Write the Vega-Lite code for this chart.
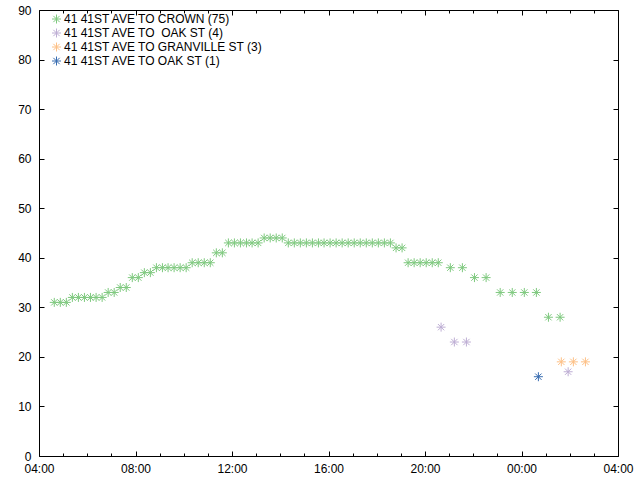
{
  "$schema": "https://vega.github.io/schema/vega-lite/v6.json",
  "width": 579,
  "height": 446,
  "autosize": {"type": "none"},
  "padding": {"left": 39, "top": 10, "right": 22, "bottom": 24},
  "background": "white",
  "config": {
    "view": {"stroke": "black", "strokeWidth": 1},
    "font": "Liberation Sans",
    "axis": {"grid": false, "domain": false, "labelFont": "Liberation Sans", "labelFontSize": 12, "labelColor": "black", "tickColor": "black", "title": null}
  },
  "data": {"values": [
    {"t": "2024-01-01T04:38", "v": 31, "s": "41 41ST AVE TO CROWN (75)"},
    {"t": "2024-01-01T04:53", "v": 31, "s": "41 41ST AVE TO CROWN (75)"},
    {"t": "2024-01-01T05:08", "v": 31, "s": "41 41ST AVE TO CROWN (75)"},
    {"t": "2024-01-01T05:23", "v": 32, "s": "41 41ST AVE TO CROWN (75)"},
    {"t": "2024-01-01T05:38", "v": 32, "s": "41 41ST AVE TO CROWN (75)"},
    {"t": "2024-01-01T05:53", "v": 32, "s": "41 41ST AVE TO CROWN (75)"},
    {"t": "2024-01-01T06:08", "v": 32, "s": "41 41ST AVE TO CROWN (75)"},
    {"t": "2024-01-01T06:22", "v": 32, "s": "41 41ST AVE TO CROWN (75)"},
    {"t": "2024-01-01T06:37", "v": 32, "s": "41 41ST AVE TO CROWN (75)"},
    {"t": "2024-01-01T06:52", "v": 33, "s": "41 41ST AVE TO CROWN (75)"},
    {"t": "2024-01-01T07:07", "v": 33, "s": "41 41ST AVE TO CROWN (75)"},
    {"t": "2024-01-01T07:22", "v": 34, "s": "41 41ST AVE TO CROWN (75)"},
    {"t": "2024-01-01T07:37", "v": 34, "s": "41 41ST AVE TO CROWN (75)"},
    {"t": "2024-01-01T07:52", "v": 36, "s": "41 41ST AVE TO CROWN (75)"},
    {"t": "2024-01-01T08:07", "v": 36, "s": "41 41ST AVE TO CROWN (75)"},
    {"t": "2024-01-01T08:22", "v": 37, "s": "41 41ST AVE TO CROWN (75)"},
    {"t": "2024-01-01T08:37", "v": 37, "s": "41 41ST AVE TO CROWN (75)"},
    {"t": "2024-01-01T08:52", "v": 38, "s": "41 41ST AVE TO CROWN (75)"},
    {"t": "2024-01-01T09:07", "v": 38, "s": "41 41ST AVE TO CROWN (75)"},
    {"t": "2024-01-01T09:21", "v": 38, "s": "41 41ST AVE TO CROWN (75)"},
    {"t": "2024-01-01T09:36", "v": 38, "s": "41 41ST AVE TO CROWN (75)"},
    {"t": "2024-01-01T09:51", "v": 38, "s": "41 41ST AVE TO CROWN (75)"},
    {"t": "2024-01-01T10:06", "v": 38, "s": "41 41ST AVE TO CROWN (75)"},
    {"t": "2024-01-01T10:21", "v": 39, "s": "41 41ST AVE TO CROWN (75)"},
    {"t": "2024-01-01T10:36", "v": 39, "s": "41 41ST AVE TO CROWN (75)"},
    {"t": "2024-01-01T10:51", "v": 39, "s": "41 41ST AVE TO CROWN (75)"},
    {"t": "2024-01-01T11:06", "v": 39, "s": "41 41ST AVE TO CROWN (75)"},
    {"t": "2024-01-01T11:21", "v": 41, "s": "41 41ST AVE TO CROWN (75)"},
    {"t": "2024-01-01T11:36", "v": 41, "s": "41 41ST AVE TO CROWN (75)"},
    {"t": "2024-01-01T11:51", "v": 43, "s": "41 41ST AVE TO CROWN (75)"},
    {"t": "2024-01-01T12:06", "v": 43, "s": "41 41ST AVE TO CROWN (75)"},
    {"t": "2024-01-01T12:21", "v": 43, "s": "41 41ST AVE TO CROWN (75)"},
    {"t": "2024-01-01T12:36", "v": 43, "s": "41 41ST AVE TO CROWN (75)"},
    {"t": "2024-01-01T12:50", "v": 43, "s": "41 41ST AVE TO CROWN (75)"},
    {"t": "2024-01-01T13:05", "v": 43, "s": "41 41ST AVE TO CROWN (75)"},
    {"t": "2024-01-01T13:20", "v": 44, "s": "41 41ST AVE TO CROWN (75)"},
    {"t": "2024-01-01T13:35", "v": 44, "s": "41 41ST AVE TO CROWN (75)"},
    {"t": "2024-01-01T13:50", "v": 44, "s": "41 41ST AVE TO CROWN (75)"},
    {"t": "2024-01-01T14:05", "v": 44, "s": "41 41ST AVE TO CROWN (75)"},
    {"t": "2024-01-01T14:20", "v": 43, "s": "41 41ST AVE TO CROWN (75)"},
    {"t": "2024-01-01T14:35", "v": 43, "s": "41 41ST AVE TO CROWN (75)"},
    {"t": "2024-01-01T14:50", "v": 43, "s": "41 41ST AVE TO CROWN (75)"},
    {"t": "2024-01-01T15:05", "v": 43, "s": "41 41ST AVE TO CROWN (75)"},
    {"t": "2024-01-01T15:20", "v": 43, "s": "41 41ST AVE TO CROWN (75)"},
    {"t": "2024-01-01T15:35", "v": 43, "s": "41 41ST AVE TO CROWN (75)"},
    {"t": "2024-01-01T15:49", "v": 43, "s": "41 41ST AVE TO CROWN (75)"},
    {"t": "2024-01-01T16:04", "v": 43, "s": "41 41ST AVE TO CROWN (75)"},
    {"t": "2024-01-01T16:19", "v": 43, "s": "41 41ST AVE TO CROWN (75)"},
    {"t": "2024-01-01T16:34", "v": 43, "s": "41 41ST AVE TO CROWN (75)"},
    {"t": "2024-01-01T16:49", "v": 43, "s": "41 41ST AVE TO CROWN (75)"},
    {"t": "2024-01-01T17:04", "v": 43, "s": "41 41ST AVE TO CROWN (75)"},
    {"t": "2024-01-01T17:19", "v": 43, "s": "41 41ST AVE TO CROWN (75)"},
    {"t": "2024-01-01T17:34", "v": 43, "s": "41 41ST AVE TO CROWN (75)"},
    {"t": "2024-01-01T17:49", "v": 43, "s": "41 41ST AVE TO CROWN (75)"},
    {"t": "2024-01-01T18:04", "v": 43, "s": "41 41ST AVE TO CROWN (75)"},
    {"t": "2024-01-01T18:19", "v": 43, "s": "41 41ST AVE TO CROWN (75)"},
    {"t": "2024-01-01T18:34", "v": 43, "s": "41 41ST AVE TO CROWN (75)"},
    {"t": "2024-01-01T18:48", "v": 42, "s": "41 41ST AVE TO CROWN (75)"},
    {"t": "2024-01-01T19:03", "v": 42, "s": "41 41ST AVE TO CROWN (75)"},
    {"t": "2024-01-01T19:18", "v": 39, "s": "41 41ST AVE TO CROWN (75)"},
    {"t": "2024-01-01T19:33", "v": 39, "s": "41 41ST AVE TO CROWN (75)"},
    {"t": "2024-01-01T19:48", "v": 39, "s": "41 41ST AVE TO CROWN (75)"},
    {"t": "2024-01-01T20:03", "v": 39, "s": "41 41ST AVE TO CROWN (75)"},
    {"t": "2024-01-01T20:18", "v": 39, "s": "41 41ST AVE TO CROWN (75)"},
    {"t": "2024-01-01T20:33", "v": 39, "s": "41 41ST AVE TO CROWN (75)"},
    {"t": "2024-01-01T21:03", "v": 38, "s": "41 41ST AVE TO CROWN (75)"},
    {"t": "2024-01-01T21:33", "v": 38, "s": "41 41ST AVE TO CROWN (75)"},
    {"t": "2024-01-01T22:03", "v": 36, "s": "41 41ST AVE TO CROWN (75)"},
    {"t": "2024-01-01T22:32", "v": 36, "s": "41 41ST AVE TO CROWN (75)"},
    {"t": "2024-01-01T23:07", "v": 33, "s": "41 41ST AVE TO CROWN (75)"},
    {"t": "2024-01-01T23:37", "v": 33, "s": "41 41ST AVE TO CROWN (75)"},
    {"t": "2024-01-02T00:07", "v": 33, "s": "41 41ST AVE TO CROWN (75)"},
    {"t": "2024-01-02T00:37", "v": 33, "s": "41 41ST AVE TO CROWN (75)"},
    {"t": "2024-01-02T01:07", "v": 28, "s": "41 41ST AVE TO CROWN (75)"},
    {"t": "2024-01-02T01:36", "v": 28, "s": "41 41ST AVE TO CROWN (75)"},
    {"t": "2024-01-01T20:40", "v": 26, "s": "41 41ST AVE TO \u00a0OAK ST (4)"},
    {"t": "2024-01-01T21:13", "v": 23, "s": "41 41ST AVE TO \u00a0OAK ST (4)"},
    {"t": "2024-01-01T21:43", "v": 23, "s": "41 41ST AVE TO \u00a0OAK ST (4)"},
    {"t": "2024-01-02T01:56", "v": 17, "s": "41 41ST AVE TO \u00a0OAK ST (4)"},
    {"t": "2024-01-02T01:39", "v": 19, "s": "41 41ST AVE TO GRANVILLE ST (3)"},
    {"t": "2024-01-02T02:09", "v": 19, "s": "41 41ST AVE TO GRANVILLE ST (3)"},
    {"t": "2024-01-02T02:39", "v": 19, "s": "41 41ST AVE TO GRANVILLE ST (3)"},
    {"t": "2024-01-02T00:42", "v": 16, "s": "41 41ST AVE TO OAK ST (1)"}
  ]},
  "layer": [
    {
      "mark": {"type": "point", "shape": "M-1,0L1,0M0,-1L0,1M-0.7,-0.7L0.7,0.7M-0.7,0.7L0.7,-0.7", "filled": false, "size": 81, "strokeWidth": 1, "opacity": 1},
      "encoding": {
        "x": {"field": "t", "type": "temporal",
          "scale": {"domain": ["2024-01-01T04:00", "2024-01-02T04:00"], "nice": false},
          "axis": {"orient": "bottom", "tickCount": 24,
            "labelExpr": "hours(datum.value) % 4 === 0 ? timeFormat(datum.value, '%H:%M') : ''",
            "tickSize": {"condition": {"test": "hours(datum.value) % 4 === 0", "value": -5}, "value": -3},
            "labelPadding": 12, "labelFlush": false, "labelOverlap": false, "labelBound": false}},
        "y": {"field": "v", "type": "quantitative",
          "scale": {"domain": [0, 90], "nice": false, "zero": true},
          "axis": {"orient": "left", "values": [0, 10, 20, 30, 40, 50, 60, 70, 80, 90], "tickSize": -5, "labelPadding": 13}},
        "color": {"field": "s", "type": "nominal",
          "scale": {"domain": ["41 41ST AVE TO CROWN (75)", "41 41ST AVE TO \u00a0OAK ST (4)", "41 41ST AVE TO GRANVILLE ST (3)", "41 41ST AVE TO OAK ST (1)"],
            "range": ["#7fc97f", "#beaed4", "#fdc086", "#386cb0"]},
          "legend": {"title": null, "orient": "none", "legendX": 11.5, "legendY": 3, "padding": 0,
            "symbolType": "M-1,0L1,0M0,-1L0,1M-0.7,-0.7L0.7,0.7M-0.7,0.7L0.7,-0.7",
            "symbolSize": 81, "symbolStrokeWidth": 1, "symbolFillColor": "transparent",
            "labelFont": "Liberation Sans", "labelFontSize": 12, "labelColor": "black", "labelOffset": 1.5, "rowPadding": 0, "labelLimit": 400}}
      }
    },
    {
      "mark": {"type": "point", "opacity": 0},
      "encoding": {
        "x": {"field": "t", "type": "temporal",
          "axis": {"orient": "top", "tickCount": 24, "labels": false, "tickSize": {"condition": {"test": "hours(datum.value) % 4 === 0", "value": -5}, "value": -3}}},
        "y": {"field": "v", "type": "quantitative",
          "axis": {"orient": "right", "values": [0, 10, 20, 30, 40, 50, 60, 70, 80, 90], "labels": false, "tickSize": -5}}
      }
    }
  ],
  "resolve": {"axis": {"x": "independent", "y": "independent"}}
}
